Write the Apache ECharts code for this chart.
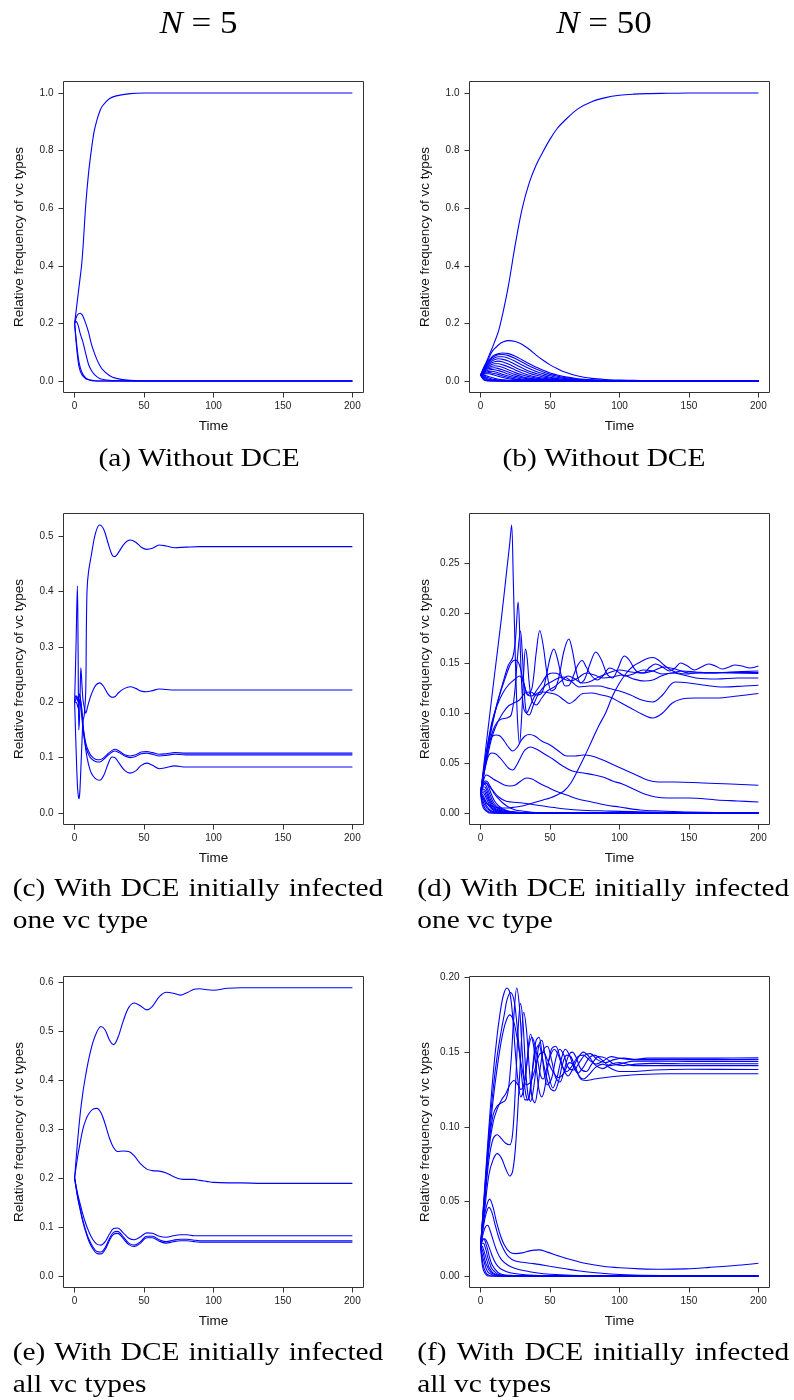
<!DOCTYPE html>
<html><head><meta charset="utf-8">
<script src="https://cdn.jsdelivr.net/npm/echarts@6/dist/echarts.min.js"></script>
<style>html,body{margin:0;padding:0;background:#fff}#c{width:794px;height:1400px}</style>
</head><body><div id="c"></div>
<script>
// ---------- tick labels ----------
const xTicks = [0, 50, 100, 150, 200];
const yTicksAB = [0, 0.2, 0.4, 0.6, 0.8, 1.0];
const yTicksC = [0, 0.1, 0.2, 0.3, 0.4, 0.5];
const yTicksD = [0, 0.05, 0.10, 0.15, 0.20, 0.25];
const yTicksE = [0, 0.1, 0.2, 0.3, 0.4, 0.5, 0.6];
const yTicksF = [0, 0.05, 0.10, 0.15, 0.20];

// ---------- panel (a): N=5, without DCE ----------
const tA = [0,1,2,3,4,5,6,8,10,12,14,16,18,20,25,30,40,50,75,100,150,200];
const a1 = [0.2,0.24,0.28,0.32,0.36,0.4,0.46,0.61,0.72,0.8,0.865,0.905,0.935,0.955,0.98,0.99,0.998,1,1,1,1,1];
const a2 = [0.2,0.218,0.229,0.234,0.235,0.232,0.225,0.2,0.17,0.13,0.1,0.075,0.055,0.04,0.019,0.009,0.002,0.0005,0,0,0,0];
const a3 = [0.2,0.207,0.2,0.185,0.165,0.15,0.135,0.095,0.058,0.037,0.024,0.015,0.009,0.006,0.002,0.001,0,0,0,0,0,0];
const a4 = [0.2,0.14,0.09,0.053,0.035,0.024,0.017,0.008,0.004,0.002,0.001,0,0,0,0,0,0,0,0,0,0,0];
const a5 = [0.2,0.15,0.105,0.07,0.048,0.033,0.023,0.011,0.005,0.002,0.001,0,0,0,0,0,0,0,0,0,0,0];

// ---------- panel (b): N=50, without DCE ----------
const tB = [0,2,4,6,8,10,13,16,20,25,30,35,40,45,50,55,60,70,80,90,100,110,120,135,150,175,200];
const b1 = [0.02,0.045,0.065,0.088,0.11,0.135,0.175,0.235,0.33,0.475,0.6,0.688,0.75,0.797,0.84,0.876,0.902,0.945,0.97,0.984,0.992,0.996,0.998,0.999,1,1,1];
const b2 = [0.02,0.04,0.06,0.08,0.1,0.112,0.126,0.135,0.14,0.137,0.127,0.11,0.09,0.072,0.056,0.043,0.032,0.017,0.009,0.005,0.003,0.002,0.001,0.0005,0,0,0];
const bBumps = [
  [0.02,0.04,0.058,0.072,0.083,0.09,0.095,0.097,0.095,0.086,0.073,0.06,0.048,0.037,0.028,0.021,0.015,0.008,0.004,0.002,0.001,0.0005,0,0,0,0,0],
  [0.02,0.039,0.056,0.069,0.079,0.086,0.091,0.092,0.088,0.078,0.065,0.052,0.041,0.031,0.023,0.017,0.012,0.006,0.003,0.0015,0.001,0,0,0,0,0,0],
  [0.02,0.038,0.053,0.065,0.074,0.08,0.084,0.084,0.079,0.068,0.055,0.043,0.033,0.025,0.018,0.013,0.009,0.004,0.002,0.001,0,0,0,0,0,0,0],
  [0.02,0.037,0.05,0.061,0.069,0.074,0.077,0.075,0.069,0.057,0.045,0.034,0.026,0.019,0.013,0.009,0.006,0.003,0.001,0,0,0,0,0,0,0,0],
  [0.02,0.035,0.047,0.057,0.063,0.067,0.069,0.066,0.059,0.047,0.036,0.027,0.02,0.014,0.01,0.007,0.005,0.002,0.001,0,0,0,0,0,0,0,0],
  [0.02,0.034,0.044,0.052,0.057,0.06,0.06,0.056,0.049,0.038,0.028,0.02,0.014,0.01,0.007,0.005,0.003,0.001,0,0,0,0,0,0,0,0,0],
  [0.02,0.032,0.041,0.047,0.051,0.053,0.051,0.047,0.039,0.029,0.021,0.015,0.01,0.007,0.005,0.003,0.002,0.001,0,0,0,0,0,0,0,0,0],
  [0.02,0.03,0.038,0.043,0.045,0.046,0.043,0.038,0.031,0.022,0.015,0.01,0.007,0.005,0.003,0.002,0.001,0,0,0,0,0,0,0,0,0,0],
  [0.02,0.029,0.035,0.038,0.04,0.039,0.036,0.031,0.024,0.016,0.011,0.007,0.005,0.003,0.002,0.001,0,0,0,0,0,0,0,0,0,0,0],
  [0.02,0.027,0.031,0.033,0.034,0.032,0.028,0.023,0.017,0.011,0.007,0.004,0.003,0.002,0.001,0,0,0,0,0,0,0,0,0,0,0,0],
  [0.02,0.025,0.028,0.029,0.028,0.026,0.022,0.017,0.012,0.007,0.004,0.003,0.002,0.001,0,0,0,0,0,0,0,0,0,0,0,0,0],
  [0.02,0.023,0.025,0.025,0.023,0.02,0.016,0.012,0.008,0.005,0.003,0.002,0.001,0,0,0,0,0,0,0,0,0,0,0,0,0,0]
];
const tBF = [0,2,4,6,8,10,13,16,20,25,30,40,200];
const bFast = [
  [0.02,0.02,0.018,0.015,0.012,0.009,0.006,0.004,0.002,0.001,0,0,0],
  [0.02,0.018,0.014,0.01,0.007,0.005,0.003,0.002,0.001,0,0,0,0],
  [0.02,0.015,0.01,0.006,0.004,0.002,0.001,0,0,0,0,0,0],
  [0.02,0.012,0.006,0.003,0.0015,0.001,0,0,0,0,0,0,0],
  [0.02,0.008,0.003,0.001,0,0,0,0,0,0,0,0,0],
  [0.02,0.005,0.001,0,0,0,0,0,0,0,0,0,0]
];

// ---------- panel (c): N=5, DCE initially infected one vc type ----------
const tC = [0,1,2,2.5,3,3.5,4,4.5,5,5.5,6,7,8,8.5,9,10,12,15,18,21,24,27,29,32,36,40,44,48,52,56,61,66,72,80,90,100,125,150,200];
const c1 = [0.2,0.12,0.05,0.035,0.026,0.03,0.05,0.08,0.11,0.14,0.165,0.178,0.22,0.34,0.405,0.435,0.465,0.505,0.52,0.512,0.488,0.466,0.463,0.472,0.487,0.493,0.489,0.48,0.476,0.478,0.484,0.482,0.479,0.48,0.481,0.481,0.481,0.481,0.481];
const c2 = [0.2,0.3,0.41,0.3,0.15,0.17,0.22,0.262,0.245,0.222,0.205,0.19,0.18,0.183,0.188,0.198,0.214,0.23,0.235,0.228,0.215,0.209,0.21,0.218,0.225,0.228,0.225,0.22,0.219,0.221,0.224,0.223,0.222,0.222,0.222,0.222,0.222,0.222,0.222];
const c3 = [0.2,0.212,0.205,0.2,0.21,0.215,0.21,0.2,0.19,0.175,0.16,0.14,0.127,0.122,0.118,0.112,0.103,0.097,0.096,0.1,0.107,0.113,0.115,0.112,0.105,0.103,0.105,0.11,0.111,0.109,0.106,0.107,0.109,0.108,0.108,0.108,0.108,0.108,0.108];
const c4 = [0.2,0.205,0.21,0.205,0.2,0.205,0.2,0.19,0.18,0.165,0.152,0.134,0.12,0.116,0.112,0.106,0.098,0.093,0.092,0.097,0.104,0.11,0.112,0.109,0.103,0.1,0.102,0.107,0.108,0.106,0.103,0.104,0.106,0.105,0.105,0.105,0.105,0.105,0.105];
const c5 = [0.2,0.2,0.195,0.19,0.195,0.2,0.205,0.2,0.19,0.175,0.158,0.135,0.115,0.107,0.1,0.088,0.072,0.062,0.059,0.068,0.088,0.101,0.1,0.09,0.077,0.072,0.076,0.086,0.09,0.086,0.08,0.082,0.085,0.083,0.083,0.083,0.083,0.083,0.083];

// ---------- panel (d): N=50, DCE initially infected one vc type ([time, value]) ----------
const dW1 = [[0,0.02],[5,0.08],[10,0.138],[15,0.195],[19,0.245],[21,0.27],[22.3,0.288],[23.5,0.235],[25,0.155],[26.5,0.095],[28,0.069],[29.5,0.095],[31,0.14],[32.3,0.164],[33.5,0.155],[35,0.13],[37,0.112],[40,0.108],[44,0.115],[48,0.122],[53,0.126],[58,0.132],[63,0.137],[68,0.134],[73,0.13],[78,0.131],[85,0.136],[92,0.14],[100,0.143],[108,0.141],[116,0.14],[124,0.142],[132,0.146],[140,0.144],[150,0.14],[165,0.1405],[180,0.14],[200,0.1395]];
const dW2 = [[0,0.02],[4,0.055],[8,0.085],[12,0.11],[16,0.13],[20,0.148],[23,0.155],[25,0.172],[27,0.211],[28.3,0.175],[29.5,0.13],[31,0.105],[33,0.1],[36,0.108],[40,0.119],[45,0.121],[50,0.12],[55,0.118],[60,0.113],[64,0.1095],[68,0.113],[73.5,0.1195],[80,0.12],[87,0.118],[93,0.116],[100,0.111],[108,0.105],[116,0.099],[124,0.095],[131,0.1],[138,0.11],[145,0.114],[155,0.115],[170,0.115],[185,0.117],[200,0.1195]];
const dW3 = [[0,0.02],[3,0.045],[6,0.068],[9,0.083],[12,0.091],[15,0.094],[19,0.095],[22,0.098],[24.5,0.12],[26.5,0.155],[28.7,0.182],[30,0.16],[31.5,0.12],[33,0.1],[35,0.098],[38,0.108],[42,0.12],[47,0.128],[52,0.132],[56,0.135],[60,0.136],[65,0.132],[71,0.126],[78,0.127],[85,0.127],[92.7,0.1245],[100,0.122],[108,0.118],[116,0.113],[124,0.111],[131,0.118],[140,0.131],[150,0.13],[160,0.128],[175,0.126],[190,0.127],[200,0.1278]];
const dW4 = [[0,0.02],[4,0.058],[8,0.088],[12,0.11],[16,0.128],[19,0.14],[22,0.15],[25,0.153],[28,0.148],[31,0.13],[34,0.118],[37,0.117],[40,0.122],[44,0.13],[48,0.138],[52,0.14],[56,0.139],[60,0.134],[65,0.132],[70,0.135],[76,0.14],[82,0.138],[88,0.135],[95,0.136],[102,0.138],[110,0.134],[118,0.132],[124,0.133],[130,0.137],[138,0.14],[146,0.138],[155,0.135],[170,0.134],[185,0.135],[200,0.135]];
const dP = [[0,0.02],[4,0.06],[8,0.09],[12,0.108],[16,0.12],[20,0.128],[24,0.133],[28,0.137],[31,0.13],[34,0.118],[37,0.125],[40,0.16],[42.6,0.1825],[45,0.168],[48,0.138],[51,0.122],[54,0.125],[57,0.14],[60,0.162],[63.5,0.174],[66,0.163],[69,0.141],[72,0.13],[75,0.134],[79,0.15],[83,0.161],[87,0.153],[91,0.139],[95,0.135],[99,0.145],[103.5,0.157],[107,0.153],[112,0.142],[117,0.14],[122,0.146],[126,0.149],[131,0.146],[136,0.142],[140,0.145],[144,0.15],[149,0.147],[154,0.143],[159,0.146],[164,0.149],[169,0.147],[174,0.144],[179,0.146],[183,0.148],[188,0.147],[194,0.145],[200,0.147]];
const dQ = [[0,0.02],[4,0.05],[8,0.075],[12,0.09],[16,0.1],[20,0.107],[24,0.11],[28,0.113],[32,0.12],[36,0.121],[40,0.118],[44,0.12],[47,0.135],[50,0.155],[52.7,0.164],[55,0.156],[58,0.138],[61,0.127],[64,0.128],[67,0.138],[70,0.148],[73.1,0.1525],[76,0.146],[80,0.137],[84,0.133],[88,0.137],[93,0.145],[98,0.142],[104,0.137],[110,0.139],[117,0.143],[124,0.142],[131,0.139],[138,0.14],[145,0.142],[155,0.141],[165,0.14],[180,0.141],[200,0.142]];
const dLate = [[0,0.02],[3,0.012],[6,0.008],[10,0.006],[15,0.005],[20,0.005],[25,0.006],[30,0.007],[35,0.009],[40,0.011],[45,0.013],[50,0.015],[55,0.018],[60,0.022],[65,0.03],[70,0.043],[75,0.057],[80,0.072],[85,0.087],[90,0.1],[95,0.117],[100,0.13],[105,0.14],[110,0.147],[115,0.151],[120,0.1545],[124,0.1555],[128,0.153],[132,0.148],[137,0.143],[142,0.14],[148,0.139],[155,0.14],[165,0.14],[180,0.1405],[200,0.1405]];
const dI1 = [[0,0.02],[2,0.04],[4,0.058],[6,0.07],[8,0.076],[11,0.078],[14,0.077],[17,0.072],[20,0.066],[23,0.062],[26,0.065],[29,0.072],[32,0.077],[35,0.0785],[39,0.077],[44,0.072],[50,0.068],[56,0.062],[62,0.057],[68,0.057],[74,0.058],[80,0.057],[88,0.053],[96,0.048],[104,0.043],[112,0.038],[120,0.033],[128,0.031],[140,0.031],[160,0.03],[180,0.029],[200,0.0277]];
const dI2 = [[0,0.02],[2,0.037],[4,0.05],[6,0.058],[8,0.06],[11,0.059],[14,0.055],[17,0.05],[20,0.045],[23,0.043],[26,0.048],[29,0.056],[32,0.063],[36,0.066],[40,0.064],[46,0.059],[52,0.054],[58,0.048],[66,0.042],[74,0.04],[82,0.038],[88,0.036],[95,0.032],[102,0.029],[110,0.024],[118,0.019],[126,0.016],[135,0.015],[150,0.015],[170,0.013],[185,0.012],[200,0.011]];
const dI3 = [[0,0.02],[2,0.032],[4,0.038],[6,0.037],[9,0.034],[13,0.031],[17,0.028],[21,0.027],[25,0.028],[29,0.032],[33,0.035],[37,0.034],[42,0.03],[48,0.026],[54,0.022],[62,0.018],[70,0.014],[80,0.011],[90,0.008],[100,0.006],[115,0.003],[130,0.002],[150,0.001],[200,0]];
const dI4 = [[0,0.02],[2,0.028],[4,0.03],[6,0.027],[9,0.022],[13,0.016],[18,0.012],[22,0.011],[30,0.01],[40,0.008],[55,0.005],[70,0.003],[90,0.002],[120,0.001],[200,0]];
const tDF = [0,1,2,3,4,5,6,8,10,13,16,20,25,30,40,60,200];
const dFast = [
  [0.02,0.026,0.03,0.032,0.032,0.031,0.029,0.024,0.019,0.014,0.01,0.006,0.003,0.002,0.0005,0,0],
  [0.02,0.026,0.03,0.031,0.03,0.028,0.025,0.018,0.012,0.007,0.004,0.002,0.001,0.0005,0,0,0],
  [0.02,0.025,0.028,0.029,0.027,0.024,0.021,0.014,0.009,0.005,0.003,0.0015,0.0008,0.0004,0,0,0],
  [0.02,0.024,0.026,0.026,0.024,0.021,0.017,0.011,0.007,0.004,0.002,0.001,0.0005,0,0,0,0],
  [0.02,0.023,0.024,0.023,0.021,0.018,0.014,0.009,0.005,0.003,0.0015,0.0007,0,0,0,0,0],
  [0.02,0.022,0.022,0.021,0.018,0.015,0.012,0.007,0.004,0.002,0.001,0,0,0,0,0,0],
  [0.02,0.021,0.02,0.018,0.015,0.012,0.009,0.005,0.003,0.0015,0.0007,0,0,0,0,0,0],
  [0.02,0.019,0.017,0.014,0.011,0.009,0.007,0.004,0.002,0.001,0,0,0,0,0,0,0],
  [0.02,0.017,0.014,0.011,0.008,0.006,0.004,0.002,0.001,0,0,0,0,0,0,0,0],
  [0.02,0.015,0.011,0.008,0.006,0.004,0.003,0.001,0,0,0,0,0,0,0,0,0],
  [0.02,0.012,0.008,0.005,0.003,0.002,0.001,0,0,0,0,0,0,0,0,0,0],
  [0.02,0.009,0.005,0.003,0.002,0.001,0,0,0,0,0,0,0,0,0,0,0]
];

// ---------- panel (e): N=5, DCE initially infected all vc types ----------
const tE = [0,2,4,6,8,10,13,16,19,22,25,28,31,35,39,43,47,52,56,61,66,71,76,81,86,90,95,100,110,120,135,150,175,200];
const e1 = [0.2,0.27,0.33,0.375,0.41,0.44,0.475,0.498,0.509,0.502,0.482,0.472,0.485,0.52,0.548,0.557,0.552,0.543,0.55,0.57,0.579,0.577,0.573,0.578,0.585,0.586,0.584,0.583,0.587,0.588,0.588,0.588,0.588,0.588];
const e2 = [0.2,0.24,0.272,0.3,0.318,0.33,0.34,0.342,0.333,0.31,0.282,0.262,0.254,0.255,0.254,0.245,0.23,0.218,0.215,0.214,0.21,0.203,0.198,0.197,0.197,0.195,0.193,0.191,0.19,0.19,0.189,0.189,0.189,0.189];
const e3 = [0.2,0.17,0.147,0.125,0.107,0.092,0.075,0.065,0.063,0.07,0.085,0.097,0.098,0.088,0.077,0.074,0.079,0.088,0.087,0.081,0.079,0.082,0.084,0.084,0.082,0.082,0.082,0.082,0.082,0.082,0.082,0.082,0.082,0.082];
const e4 = [0.2,0.165,0.138,0.113,0.093,0.077,0.06,0.05,0.049,0.058,0.076,0.089,0.091,0.08,0.067,0.063,0.069,0.081,0.081,0.074,0.07,0.073,0.075,0.075,0.073,0.072,0.072,0.072,0.072,0.072,0.072,0.072,0.072,0.072];
const e5 = [0.2,0.163,0.135,0.11,0.09,0.073,0.056,0.046,0.045,0.054,0.072,0.085,0.087,0.076,0.064,0.06,0.066,0.078,0.078,0.071,0.067,0.07,0.072,0.072,0.07,0.069,0.069,0.069,0.069,0.069,0.069,0.069,0.069,0.069];

// ---------- panel (f): N=50, DCE initially infected all vc types ([time, value]) ----------
const fW1 = [[0,0.02],[3,0.06],[6,0.1],[9,0.135],[12,0.162],[15,0.182],[17,0.19],[19,0.193],[21,0.19],[23,0.175],[25,0.15],[27,0.13],[29,0.12],[31,0.125],[33,0.14],[35,0.155],[37,0.16],[39,0.155],[41,0.145],[43,0.135],[45,0.132],[47,0.137],[50,0.147],[53,0.152],[56,0.148],[59,0.14],[62,0.137],[66,0.141],[70,0.147],[74,0.148],[78,0.145],[83,0.142],[88,0.144],[94,0.147],[100,0.146],[110,0.145],[120,0.146],[140,0.146],[170,0.146],[200,0.1462]];
const fW2 = [[0,0.02],[3,0.055],[6,0.088],[9,0.108],[12,0.114],[15,0.116],[18,0.118],[20,0.125],[22,0.145],[24,0.175],[26,0.193],[28,0.18],[30,0.15],[32,0.125],[34,0.118],[36,0.125],[38,0.145],[40,0.158],[42,0.16],[44,0.15],[46,0.135],[48,0.128],[51,0.132],[54,0.145],[57,0.152],[60,0.148],[63,0.14],[67,0.138],[71,0.143],[75,0.148],[79,0.149],[84,0.145],[90,0.143],[96,0.145],[103,0.146],[112,0.145],[125,0.145],[150,0.145],[200,0.1451]];
const fW3 = [[0,0.02],[3,0.05],[6,0.078],[9,0.092],[12,0.0947],[15,0.092],[18,0.089],[21,0.088],[23,0.095],[25,0.125],[27,0.165],[28.7,0.1825],[30.5,0.17],[32,0.145],[34,0.122],[36,0.117],[38,0.125],[40,0.14],[42,0.155],[44,0.158],[46,0.15],[49,0.135],[52,0.126],[55,0.133],[58,0.145],[61,0.152],[64,0.148],[67,0.14],[70,0.136],[74,0.14],[78,0.146],[82,0.148],[87,0.145],[93,0.141],[100,0.142],[110,0.144],[125,0.144],[150,0.1438],[200,0.1438]];
const fW4 = [[0,0.02],[3,0.045],[6,0.068],[9,0.078],[12,0.082],[15,0.079],[18,0.072],[21,0.067],[23,0.07],[25,0.085],[27,0.115],[29,0.15],[31,0.1767],[33,0.165],[35,0.14],[37,0.12],[39,0.116],[41,0.125],[43,0.14],[45.5,0.152],[48,0.154],[51,0.145],[54,0.133],[57,0.13],[60,0.137],[63,0.147],[66,0.15],[69,0.146],[72,0.139],[76,0.137],[80,0.142],[85,0.147],[90,0.146],[96,0.142],[103,0.141],[112,0.142],[125,0.1425],[150,0.1422],[200,0.1422]];
const fW5 = [[0,0.02],[3,0.052],[6,0.085],[9,0.103],[12,0.112],[15,0.118],[18,0.122],[21,0.128],[24,0.131],[27,0.128],[29,0.125],[31,0.128],[33,0.14],[35.9,0.162],[38,0.155],[40,0.14],[42,0.125],[44,0.12],[46,0.125],[48,0.138],[51,0.152],[54,0.154],[57,0.147],[60,0.138],[63,0.134],[66,0.138],[70,0.146],[74,0.15],[78,0.147],[83,0.141],[88,0.139],[94,0.142],[100,0.143],[110,0.141],[125,0.141],[150,0.141],[200,0.141]];
const fW6 = [[0,0.02],[3,0.058],[6,0.095],[9,0.125],[12,0.148],[15,0.165],[17,0.175],[19,0.185],[21.5,0.19],[24,0.185],[26,0.17],[28,0.15],[30,0.13],[32,0.118],[34,0.118],[36,0.128],[38,0.142],[40,0.152],[42,0.155],[44,0.148],[47,0.135],[50,0.126],[53,0.124],[56,0.13],[59,0.142],[62,0.148],[65,0.147],[68,0.14],[71,0.134],[74,0.132],[78,0.135],[83,0.14],[88,0.142],[94,0.139],[100,0.137],[110,0.137],[125,0.138],[150,0.1385],[200,0.1384]];
const fW7 = [[0,0.02],[3,0.055],[6,0.09],[9,0.118],[12,0.14],[15,0.158],[18,0.17],[21,0.175],[24,0.17],[27,0.155],[30,0.138],[33,0.128],[36,0.13],[39,0.138],[42,0.148],[45,0.15],[48,0.145],[52,0.137],[56,0.133],[60,0.136],[64,0.143],[68,0.14],[72,0.132],[76,0.131],[82,0.132],[90,0.133],[100,0.134],[115,0.135],[135,0.1355],[165,0.1355],[200,0.1355]];
const fL1 = [[0,0.02],[2,0.035],[4,0.046],[6.5,0.0515],[9,0.046],[11,0.038],[14,0.028],[17,0.021],[21,0.016],[25,0.015],[30,0.0155],[36,0.017],[42,0.0175],[48,0.016],[56,0.0135],[64,0.0112],[75,0.0085],[88,0.0065],[100,0.0055],[115,0.0048],[130,0.0045],[148,0.0048],[165,0.0058],[185,0.0072],[200,0.0086]];
const fL2 = [[0,0.02],[2,0.033],[4,0.042],[6,0.046],[8,0.043],[10,0.036],[13,0.026],[16,0.019],[20,0.013],[25,0.01],[30,0.0092],[36,0.0085],[42,0.0078],[50,0.0065],[60,0.005],[70,0.0035],[85,0.002],[100,0.001],[130,0.0003],[200,0]];
const fL3 = [[0,0.02],[2,0.029],[3.5,0.033],[5,0.034],[7,0.03],[9,0.024],[12,0.016],[15,0.011],[20,0.007],[25,0.005],[32,0.0035],[40,0.0022],[50,0.0012],[65,0.0005],[90,0.0001],[200,0]];
const fL4 = [[0,0.02],[1.5,0.024],[3,0.025],[5,0.022],[7,0.017],[9,0.012],[12,0.007],[16,0.004],[22,0.002],[30,0.001],[45,0.0003],[200,0]];
const tFF = [0,1,2,3,4,5,6,8,10,13,16,20,30,200];
const fFast = [
  [0.02,0.024,0.025,0.024,0.021,0.018,0.014,0.008,0.005,0.002,0.001,0.0005,0,0],
  [0.02,0.022,0.022,0.02,0.017,0.013,0.01,0.005,0.003,0.001,0.0005,0,0,0],
  [0.02,0.02,0.018,0.015,0.012,0.009,0.006,0.003,0.0015,0.0005,0,0,0,0],
  [0.02,0.018,0.015,0.011,0.008,0.006,0.004,0.002,0.001,0,0,0,0,0],
  [0.02,0.015,0.011,0.008,0.005,0.003,0.002,0.001,0,0,0,0,0,0],
  [0.02,0.012,0.007,0.004,0.002,0.001,0.0005,0,0,0,0,0,0,0],
  [0.02,0.009,0.004,0.002,0.001,0,0,0,0,0,0,0,0,0]
];

// ---------- build ----------
const BLUE = '#0000ff';
const series = [];
function addXY(g, xs, ys) {
  series.push({type:'line', xAxisIndex:g, yAxisIndex:g, data: xs.map((x,i)=>[x, ys[i]]),
    showSymbol:false, smooth:0.35, silent:true, lineStyle:{color:BLUE, width:1.1}});
}
function addPts(g, pts) {
  series.push({type:'line', xAxisIndex:g, yAxisIndex:g, data: pts,
    showSymbol:false, smooth:0.35, silent:true, lineStyle:{color:BLUE, width:1.1}});
}
[a1,a2,a3,a4,a5].forEach(y=>addXY(0,tA,y));
[b1,b2].forEach(y=>addXY(1,tB,y));
bBumps.forEach(y=>addXY(1,tB,y));
bFast.forEach(y=>addXY(1,tBF,y));
[c1,c2,c3,c4,c5].forEach(y=>addXY(2,tC,y));
[dW1,dW2,dW3,dW4,dP,dQ,dLate,dI1,dI2,dI3,dI4].forEach(p=>addPts(3,p));
dFast.forEach(y=>addXY(3,tDF,y));
[e1,e2,e3,e4,e5].forEach(y=>addXY(4,tE,y));
[fW1,fW2,fW3,fW4,fW5,fW6,fW7,fL1,fL2,fL3,fL4].forEach(p=>addPts(5,p));
fFast.forEach(y=>addXY(5,tFF,y));

const SANS = '"Liberation Sans", Arial, sans-serif';
const SERIF = '"Liberation Serif", "Times New Roman", serif';
const gridPos = [
  {left:63.5, top:81.5}, {left:469.5, top:81.5},
  {left:63.5, top:513.5}, {left:469.5, top:513.5},
  {left:63.5, top:976.5}, {left:469.5, top:976.5}
];
const yCfg = [
  {min:-0.04, max:1.04, ticks:yTicksAB, dec:1},
  {min:-0.04, max:1.04, ticks:yTicksAB, dec:1},
  {min:-0.0208, max:0.5408, ticks:yTicksC, dec:1},
  {min:-0.01152, max:0.29952, ticks:yTicksD, dec:2},
  {min:-0.0235, max:0.611, ticks:yTicksE, dec:1},
  {min:-0.0077, max:0.2007, ticks:yTicksF, dec:2}
];
const grids = gridPos.map(p=>({left:p.left, top:p.top, width:300, height:311, show:true,
  borderColor:'#333', borderWidth:1, backgroundColor:'transparent', containLabel:false}));
const xAxes = gridPos.map((p,i)=>({type:'value', gridIndex:i, min:-8, max:208, position:'bottom',
  axisLine:{show:false, onZero:false}, splitLine:{show:false},
  axisTick:{show:true, inside:false, length:5, lineStyle:{color:'#333', width:1}, customValues:xTicks},
  axisLabel:{customValues:xTicks, fontSize:10, color:'#222', fontFamily:SANS, margin:9, formatter:v=>String(v)},
  name:'Time', nameLocation:'middle', nameGap:27,
  nameTextStyle:{fontSize:13.5, color:'#111', fontFamily:SANS}}));
const yAxes = yCfg.map((c,i)=>({type:'value', gridIndex:i, min:c.min, max:c.max, position:'left',
  axisLine:{show:false, onZero:false}, splitLine:{show:false},
  axisTick:{show:true, inside:false, length:5, lineStyle:{color:'#333', width:1}, customValues:c.ticks},
  axisLabel:{customValues:c.ticks, fontSize:10, color:'#222', fontFamily:SANS, margin:10, formatter:v=>v.toFixed(c.dec)},
  name:'Relative frequency of vc types', nameLocation:'middle', nameGap:37,
  nameTextStyle:{fontSize:13.5, color:'#111', fontFamily:SANS}}));

// ---------- captions (serif, stretched like Computer Modern) ----------
const CAP = 26, SX = 1.13;
const mctx = document.createElement('canvas').getContext('2d');
function wWidth(t){ mctx.font = CAP + 'px ' + SERIF; return mctx.measureText(t).width * SX; }
const graphics = [];
function textEl(t, x, yMid, align){
  graphics.push({type:'text', x:x, y:yMid, scaleX:SX, silent:true,
    style:{text:t, fontSize:CAP, fontFamily:SERIF, fill:'#000', textAlign:align, textVerticalAlign:'middle'}});
}
function justified(words, x0, x1, yMid){
  const ws = words.map(wWidth);
  const gap = (x1 - x0 - ws.reduce((a,b)=>a+b,0)) / (words.length - 1);
  let x = x0;
  words.forEach((w,i)=>{ textEl(w, x, yMid, 'left'); x += ws[i] + gap; });
}
const BL = 8; // baseline offset from text middle
textEl('(a) Without DCE', 199, 467 - BL, 'center');
textEl('(b) Without DCE', 604, 467 - BL, 'center');
justified(['(c)','With','DCE','initially','infected'], 12.7, 383.3, 897 - BL);
textEl('one vc type', 12.7, 929 - BL, 'left');
justified(['(d)','With','DCE','initially','infected'], 417.3, 789.3, 897 - BL);
textEl('one vc type', 417.3, 929 - BL, 'left');
justified(['(e)','With','DCE','initially','infected'], 12.7, 383.3, 1361 - BL);
textEl('all vc types', 12.7, 1393 - BL, 'left');
justified(['(f)','With','DCE','initially','infected'], 417.3, 789.3, 1361 - BL);
textEl('all vc types', 417.3, 1393 - BL, 'left');
// column headings N = 5 / N = 50
[[198.5,'5'],[604,'50']].forEach(([cx,n])=>{
  graphics.push({type:'text', x:cx, y:24.5, scaleX:SX, silent:true,
    style:{text:'{i|N} = ' + n, fontSize:31, fontFamily:SERIF, fill:'#000', textAlign:'center', textVerticalAlign:'middle',
      rich:{i:{fontStyle:'italic', fontSize:31, fontFamily:SERIF, fill:'#000'}}}});
});

const chart = echarts.init(document.getElementById('c'), null, {renderer:'canvas'});
chart.setOption({animation:false, backgroundColor:'#fff',
  grid:grids, xAxis:xAxes, yAxis:yAxes, series:series, graphic:{elements:graphics}});
</script></body></html>
